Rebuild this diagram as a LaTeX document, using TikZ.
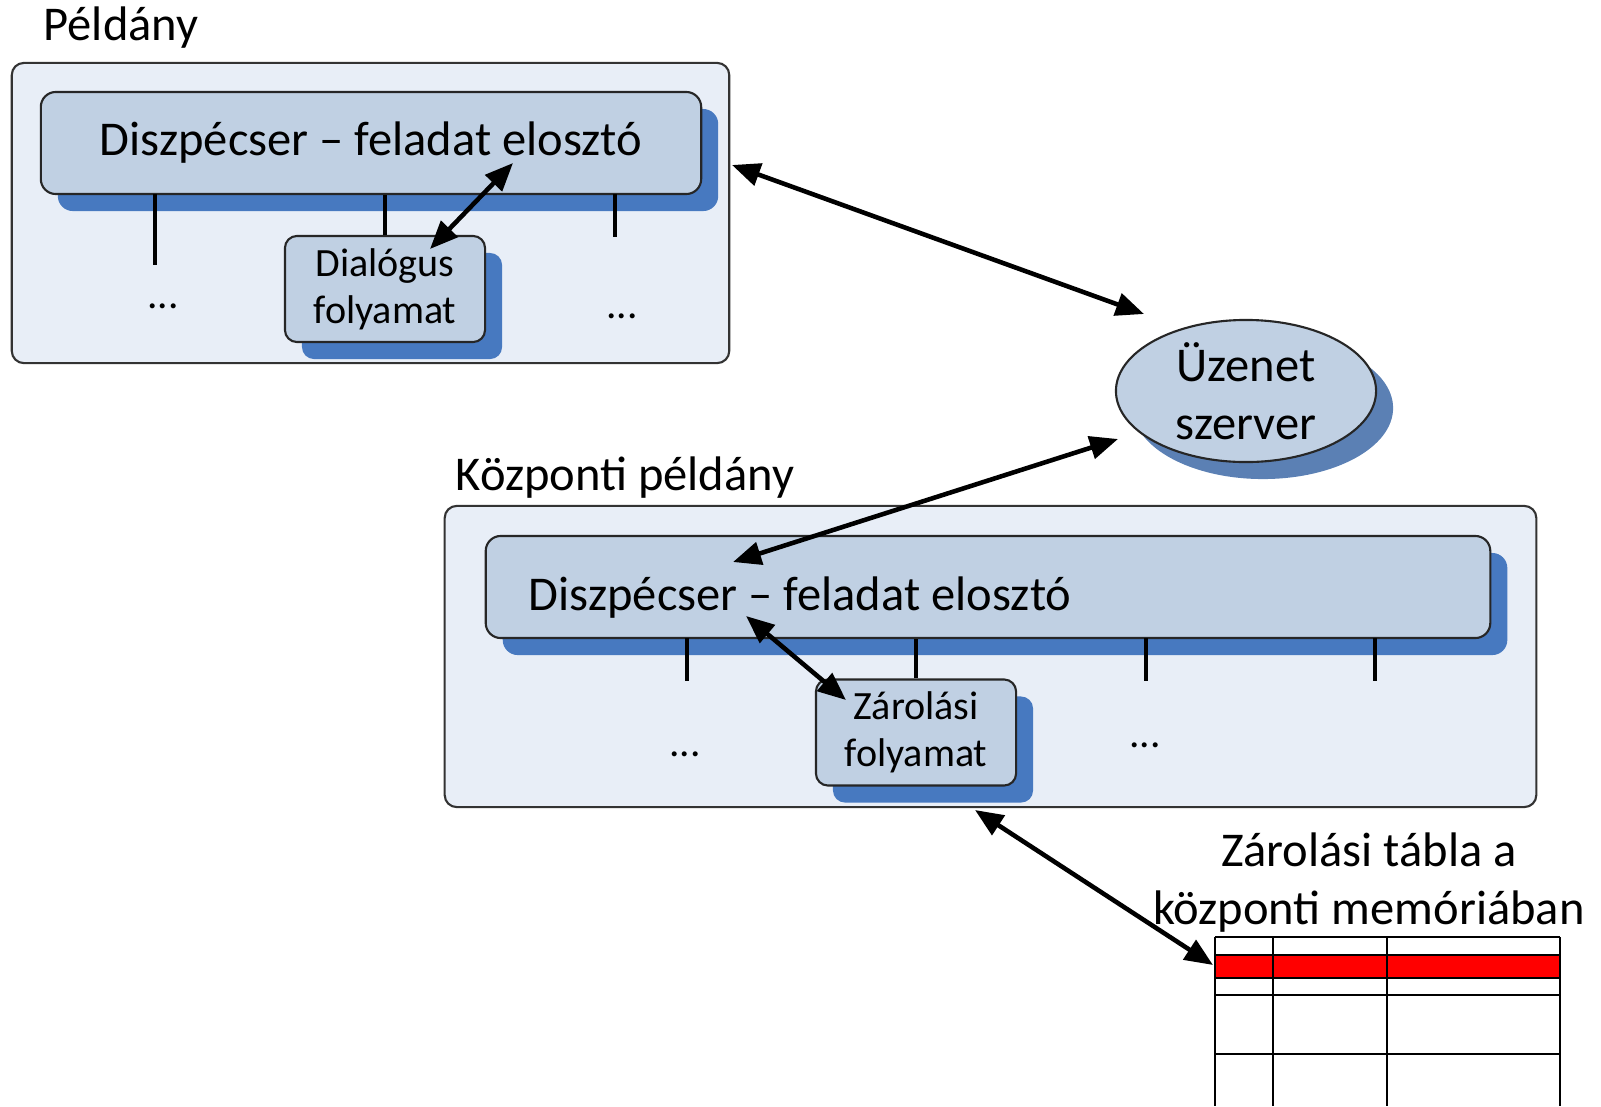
\documentclass[tikz,border=0pt]{standalone}
\usepackage{fontspec}
\setmainfont{Carlito}
\usetikzlibrary{shapes.geometric,shadows,arrows.meta}
\definecolor{panelfill}{RGB}{232,238,247}
\definecolor{barfill}{RGB}{192,208,227}
\definecolor{shadowblue}{RGB}{71,121,192}
\definecolor{ellshadow}{RGB}{91,128,180}
\definecolor{rowred}{RGB}{255,0,0}
\tikzset{
	panel/.style={draw=black!80, fill=panelfill, rounded corners=0.12cm, line width=0.6pt, inner sep=0pt},
	bar/.style={draw=black!85, fill=barfill, rounded corners=0.15cm, line width=0.6pt, minimum height=1.02cm, inner sep=0pt, font=\fontsize{13.8}{16.5}\selectfont, drop shadow={shadow xshift=0.17cm, shadow yshift=-0.17cm, fill=shadowblue, opacity=1}},
	procbox/.style={draw=black!85, fill=barfill, rounded corners=0.12cm, line width=0.6pt, minimum width=2cm, minimum height=1.06cm, inner sep=0pt, align=center, font=\fontsize{11.4}{13.3}\selectfont, drop shadow={shadow xshift=0.17cm, shadow yshift=-0.17cm, fill=shadowblue, opacity=1}},
	server/.style={ellipse, draw=black!85, fill=barfill, line width=0.6pt, minimum width=2.6cm, minimum height=1.42cm, inner sep=0pt, align=center, font=\fontsize{13.8}{16.5}\selectfont, drop shadow={shadow xshift=0.17cm, shadow yshift=-0.17cm, fill=ellshadow, opacity=1}},
	title/.style={font=\fontsize{13.8}{16.5}\selectfont, inner sep=0pt, align=center},
	dots/.style={font=\fontsize{11.8}{13}\selectfont, inner sep=0pt},
	tick/.style={line width=1.4pt},
	conn/.style={{Triangle[length=8pt,width=6.5pt]}-{Triangle[length=8pt,width=6.5pt]}, line width=1.3pt},
}
\begin{document}
\begin{tikzpicture}[x=0.01cm, y=-0.01cm]
	\useasboundingbox (0,0) rectangle (1601,1106);
	\node[title, anchor=west] (lblinst) at (43,28) {Példány};
	\node[panel, minimum width=7.17cm, minimum height=3cm] (inst) at (370.5,213) {};
	\node[bar, minimum width=6.6cm] (disp1) at (371,143) {Diszpécser -- feladat elosztó};
	\node[procbox] (dialog) at (385,289) {Dialógus\\folyamat};
	\foreach \x/\y in {155/265, 615/237} {
		\draw[tick] (\x,194) -- (\x,\y);
	}
	\draw[tick] (dialog.north) -- (dialog.north |- disp1.south);
	\node[dots] (dotsa) at (163,306) {...};
	\node[dots] (dotsb) at (622,316) {...};

	\node[server] (msg) at (1246,391) {Üzenet\\szerver};

	\node[title, anchor=west] (lblcent) at (455,478) {Központi példány};
	\node[panel, minimum width=10.91cm, minimum height=3.01cm] (cent) at (990.5,656.5) {};
	\node[bar, minimum width=10.04cm] (disp2) at (988,587) {\raisebox{-0.23cm}[0pt][0pt]{\makebox[9.18cm][l]{Diszpécser -- feladat elosztó}}};
	\node[procbox] (lockproc) at (916,732.5) {Zárolási\\folyamat};
	\foreach \x in {687, 1146, 1375} {
		\draw[tick] (\x,638) -- (\x,681);
	}
	\draw[tick] (lockproc.north) -- (lockproc.north |- disp2.south);
	\node[dots] (dotsc) at (685,754) {...};
	\node[dots] (dotsd) at (1145,745) {...};

	\node[title] (lbltable) at (1369,883) {Zárolási tábla a\\központi memóriában};
	\fill[rowred] (1215,955) rectangle (1560,978);
	\foreach \y in {937, 955, 978, 995, 1054} {
		\draw[line width=0.6pt] (1215,\y) -- (1560,\y);
	}
	\foreach \x in {1215, 1273, 1387, 1560} {
		\draw[line width=0.6pt] (\x,937) -- (\x,1106);
	}
	\coordinate (lockrow) at (1213,965);

	\coordinate (a1) at (513,163);
	\coordinate (a2) at (430,249);
	\coordinate (b1) at (732,165);
	\coordinate (b2) at (1144,314);
	\coordinate (c1) at (1118,439);
	\coordinate (c2) at (733,562);
	\coordinate (d1) at (746,616);
	\coordinate (d2) at (846,700);
	\coordinate (e1) at (975,810);
	\draw[conn] (a1) -- (a2);
	\draw[conn] (b1) -- (b2);
	\draw[conn] (c1) -- (c2);
	\draw[conn] (d1) -- (d2);
	\draw[conn] (e1) -- (lockrow);
\end{tikzpicture}
\end{document}
